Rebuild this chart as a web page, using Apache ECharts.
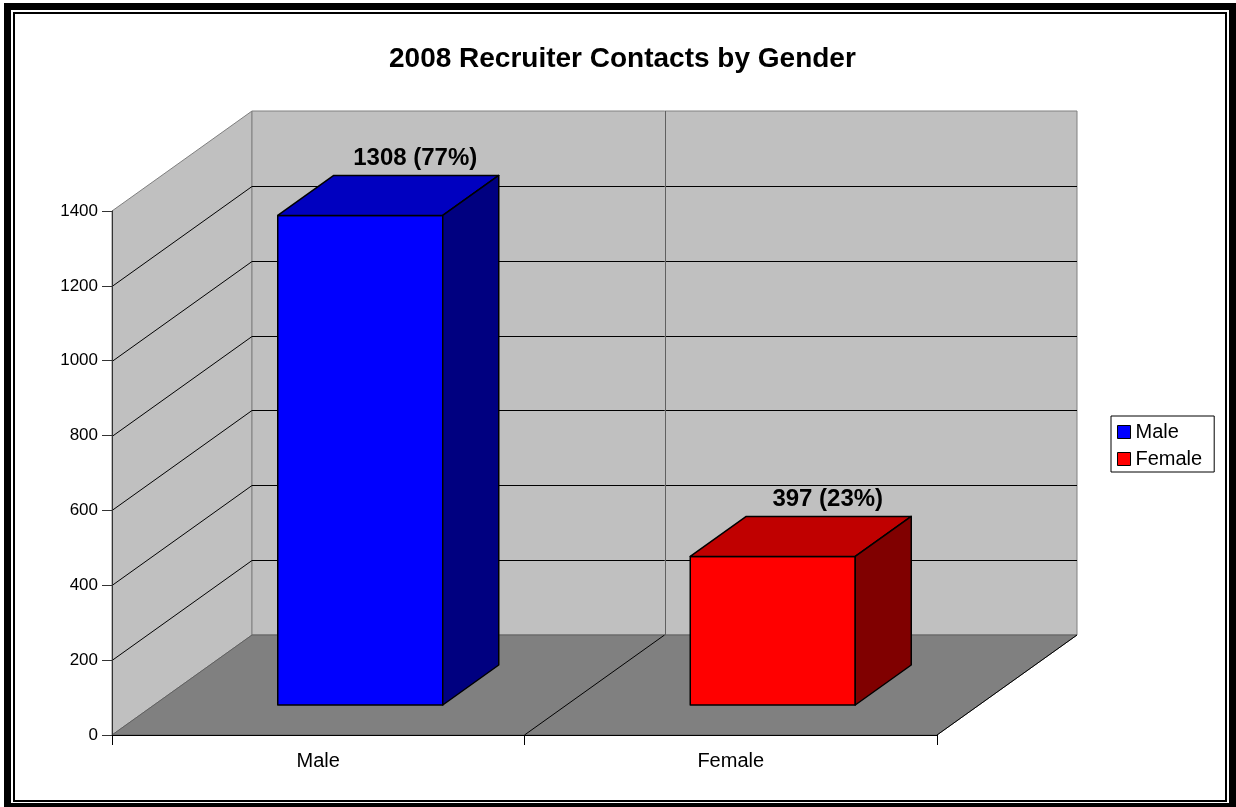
<!DOCTYPE html>
<html><head><meta charset="utf-8">
<script src="https://cdn.jsdelivr.net/npm/echarts@6/dist/echarts.min.js"></script>
<style>html,body{margin:0;padding:0;background:#fff}#chart{width:1236px;height:807px}</style>
</head><body><div id="chart"></div>
<script>
const titleText = '2008 Recruiter Contacts by Gender';
const categories = ['Male', 'Female'];
const contacts = [1308, 397];
const frontColors = ['#0000FF', '#FF0000'];
const topColors = ['#0000C0', '#C00000'];
const sideColors = ['#000080', '#800000'];
const yTicks = [0, 200, 400, 600, 800, 1000, 1200, 1400];

const DX = 140, DY = -100;           // oblique depth projection (pixels)
const FRONT = 0.3, BACK = 0.7, BAR_W = 0.4;
const FONT = '"Liberation Sans", Arial, sans-serif';
const total = contacts.reduce((a, b) => a + b, 0);
const c = v => Math.round(v) + 0.5;

function wallsRender(params, api) {
  const bw = api.size([1, 0])[0];
  const x0 = api.coord([0, 0])[0] - bw / 2;
  const x1 = x0 + bw * categories.length;
  const y0 = api.coord([0, yTicks[0]])[1];
  const yT = api.coord([0, yTicks[yTicks.length - 1]])[1];
  const ch = [];
  ch.push({type: 'polygon', shape: {points: [[x0, y0], [x0, yT], [x0 + DX, yT + DY], [x0 + DX, y0 + DY]]},
    style: {fill: '#C0C0C0', stroke: '#808080', lineWidth: 1}});
  ch.push({type: 'polygon', shape: {points: [[x0 + DX, yT + DY], [x1 + DX, yT + DY], [x1 + DX, y0 + DY], [x0 + DX, y0 + DY]]},
    style: {fill: '#C0C0C0', stroke: '#808080', lineWidth: 1}});
  ch.push({type: 'polygon', shape: {points: [[x0, y0], [x1, y0], [x1 + DX, y0 + DY], [x0 + DX, y0 + DY]]},
    style: {fill: '#808080', stroke: '#606060', lineWidth: 1}});
  yTicks.slice(1, -1).forEach(v => {
    const y = api.coord([0, v])[1];
    ch.push({type: 'polyline', shape: {points: [[x0, c(y)], [x0 + DX, c(y + DY)], [x1 + DX, c(y + DY)]]},
      style: {fill: null, stroke: '#000', lineWidth: 1}});
  });
  for (let i = 1; i < categories.length; i++) {
    const xd = x0 + bw * i;
    ch.push({type: 'line', shape: {x1: c(xd + DX), y1: y0 + DY, x2: c(xd + DX), y2: yT + DY},
      style: {stroke: '#606060', lineWidth: 1}});
    ch.push({type: 'line', shape: {x1: xd, y1: y0, x2: xd + DX, y2: y0 + DY},
      style: {stroke: '#000', lineWidth: 1}});
  }
  ch.push({type: 'line', shape: {x1: x1, y1: y0, x2: x1 + DX, y2: y0 + DY},
    style: {stroke: '#000', lineWidth: 1}});
  return {type: 'group', children: ch};
}

function barRender(i) {
  return function (params, api) {
    const cat = api.value(0), v = api.value(1);
    const bw = api.size([1, 0])[0];
    const c0 = api.coord([cat, 0]);
    const cv = api.coord([cat, v]);
    const fw = bw * BAR_W;
    const fx = c0[0] - fw / 2 + FRONT * DX;
    const fyb = c0[1] + FRONT * DY, fyt = cv[1] + FRONT * DY;
    const ddx = (BACK - FRONT) * DX, ddy = (BACK - FRONT) * DY;
    const st = {stroke: '#000', lineWidth: 1.5, lineJoin: 'round'};
    const pct = Math.round(v / total * 100);
    return {type: 'group', children: [
      {type: 'polygon', shape: {points: [[fx, fyb], [fx, fyt], [fx + fw, fyt], [fx + fw, fyb]]},
        style: Object.assign({fill: frontColors[i]}, st)},
      {type: 'polygon', shape: {points: [[fx, fyt], [fx + fw, fyt], [fx + fw + ddx, fyt + ddy], [fx + ddx, fyt + ddy]]},
        style: Object.assign({fill: topColors[i]}, st)},
      {type: 'polygon', shape: {points: [[fx + fw, fyb], [fx + fw, fyt], [fx + fw + ddx, fyt + ddy], [fx + fw + ddx, fyb + ddy]]},
        style: Object.assign({fill: sideColors[i]}, st)},
      {type: 'text', x: c0[0] + BACK * DX - 1, y: fyt + ddy - 5,
        style: {text: v + ' (' + pct + '%)', fill: '#000', font: 'bold 24px ' + FONT,
          textAlign: 'center', textVerticalAlign: 'bottom'}}
    ]};
  };
}

const chart = echarts.init(document.getElementById('chart'), null, {renderer: 'canvas'});
const series = [{
  type: 'custom', name: '_walls', silent: true, z: 1,
  data: [[0, 0]], renderItem: wallsRender, legendHoverLink: false
}];
categories.forEach((name, i) => {
  series.push({
    type: 'custom', name: name, z: 2,
    itemStyle: {color: frontColors[i]},
    data: [[i, contacts[i]]],
    renderItem: barRender(i)
  });
});

chart.setOption({
  animation: false,
  backgroundColor: '#fff',
  textStyle: {fontFamily: FONT},
  title: {
    text: titleText, left: 389, top: 45, padding: 0,
    textStyle: {fontSize: 28, fontWeight: 'bold', color: '#000', fontFamily: FONT}
  },
  legend: {
    data: categories, orient: 'vertical', left: 1111, top: 416,
    padding: [6, 12, 3, 6], itemGap: 7, itemWidth: 13, itemHeight: 13,
    icon: 'rect', backgroundColor: '#fff', borderColor: '#000', borderWidth: 1,
    itemStyle: {borderColor: '#000', borderWidth: 1},
    textStyle: {fontSize: 20, color: '#000', fontFamily: FONT, lineHeight: 20},
    selectedMode: false
  },
  grid: {left: 112, right: 299, top: 211, bottom: 72, containLabel: false, outerBoundsMode: 'none'},
  xAxis: {
    type: 'category', data: categories, boundaryGap: true, z: 5,
    axisLine: {lineStyle: {color: '#000', width: 1}},
    axisTick: {show: true, length: 10, lineStyle: {color: '#000'}},
    axisLabel: {fontSize: 20, color: '#000', margin: 16, fontFamily: FONT},
    splitLine: {show: false}
  },
  yAxis: {
    type: 'value', min: yTicks[0], max: yTicks[yTicks.length - 1], interval: yTicks[1] - yTicks[0], z: 5,
    axisLine: {show: true, lineStyle: {color: '#333', width: 1}},
    axisTick: {show: true, length: 10, lineStyle: {color: '#333'}},
    axisLabel: {fontSize: 17, color: '#000', margin: 14, fontFamily: FONT, formatter: v => String(v)},
    splitLine: {show: false}
  },
  graphic: [
    {type: 'rect', silent: true, z: 100, shape: {x: 7.5, y: 6.5, width: 1225, height: 800},
      style: {fill: 'none', stroke: '#000', lineWidth: 7}},
    {type: 'rect', silent: true, z: 100, shape: {x: 14, y: 13, width: 1212, height: 788},
      style: {fill: 'none', stroke: '#000', lineWidth: 2}}
  ],
  series: series
});
</script></body></html>
